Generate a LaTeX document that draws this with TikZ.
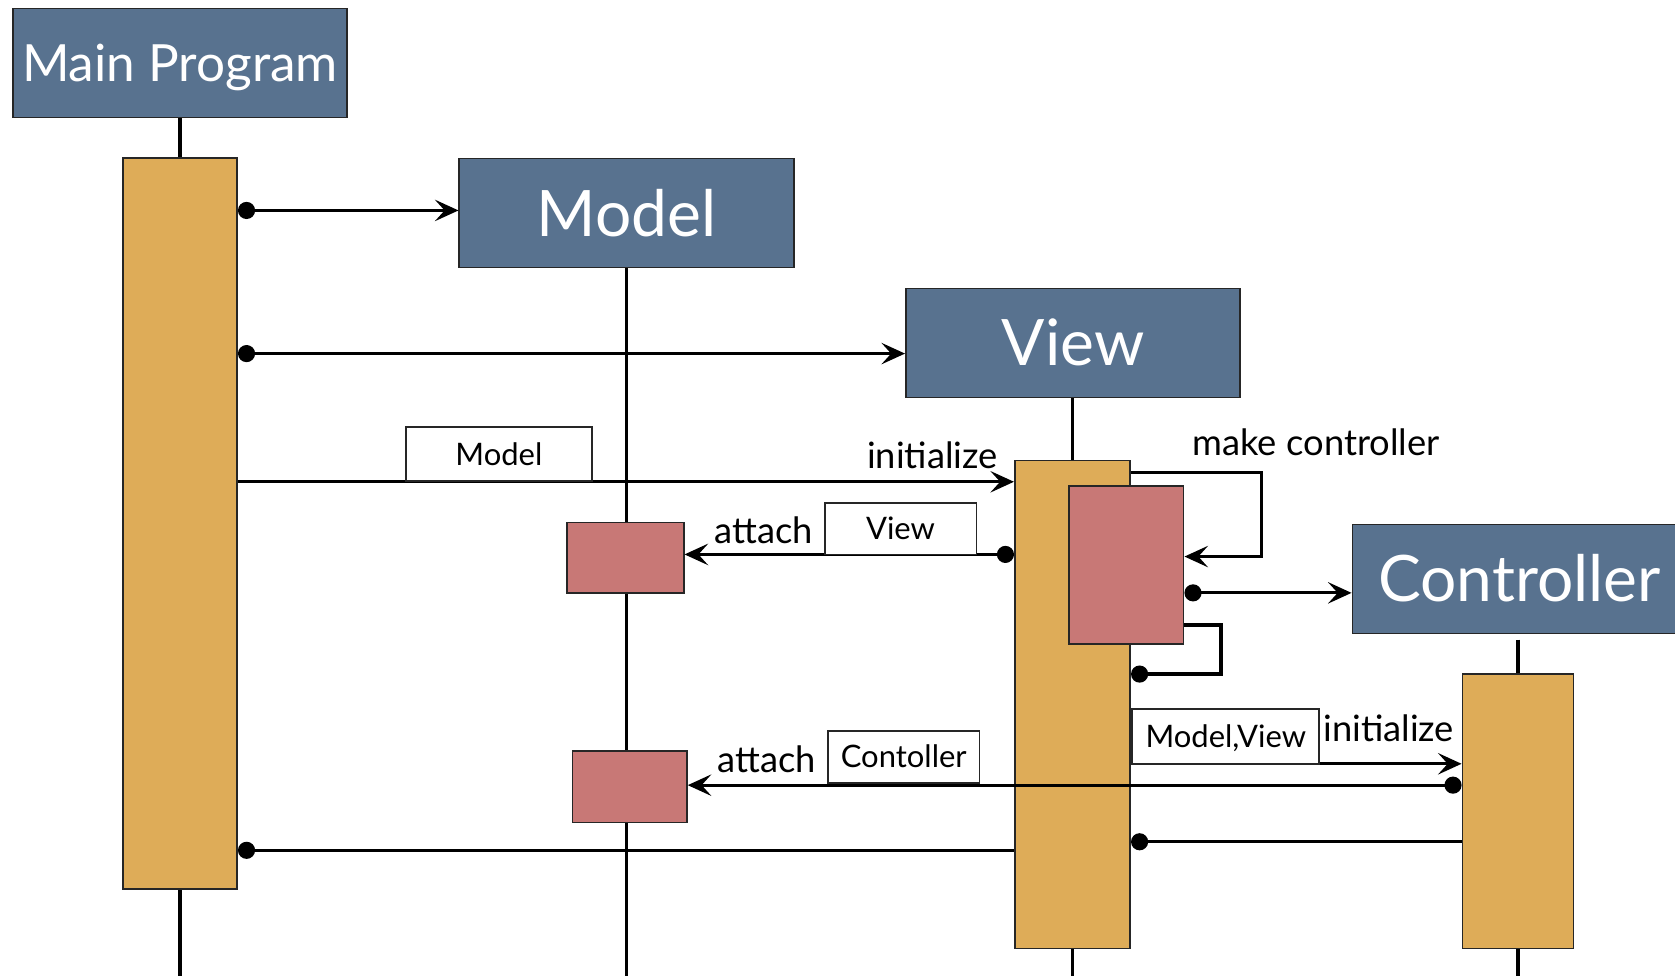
\documentclass[tikz,border=0pt]{standalone}
\usepackage{fontspec}
\setmainfont{Lato}
\usetikzlibrary{arrows.meta}
\definecolor{slate}{RGB}{88,114,143}
\definecolor{ochre}{RGB}{222,172,88}
\definecolor{rose}{RGB}{200,120,118}
\pgfdeclarelayer{bg}
\pgfsetlayers{bg,main}
\tikzset{
  actor/.style={draw=black!85, line width=0.8pt, fill=slate, text=white, inner sep=0,
    minimum width=156.5pt, minimum height=51pt, text height=21.5pt, text depth=0pt,
    font=\fontsize{30}{36}\selectfont},
  bar/.style={draw=black!85, line width=0.8pt, fill=ochre, inner sep=0},
  pinkbox/.style={draw=black!85, line width=0.8pt, fill=rose, inner sep=0},
  tag/.style={draw=black!85, fill=white, line width=0.8pt, inner sep=0,
    text height=10.4pt, text depth=0pt, font=\fontsize{14.5}{17}\selectfont},
  lbl/.style={inner sep=0, text height=12pt, text depth=0pt, font=\fontsize{17}{20}\selectfont},
  lifeline/.style={line width=1.5pt},
  link/.style={line width=1.5pt},
  sendarrow/.style={link, -{Stealth[length=11pt,width=10pt,inset=4.5pt]}},
  dotsend/.style={link, {Circle[length=8pt]}-{Stealth[length=11pt,width=10pt,inset=4.5pt]}},
  dotline/.style={link, {Circle[length=8pt]}-},
  linedot/.style={link, -{Circle[length=8pt]}}
}
\begin{document}
\begin{tikzpicture}[x=0.5pt,y=-0.5pt]
\useasboundingbox (0,0) rectangle (1568,914);
\clip (0,0) rectangle (1568,914);
\coordinate (bottom) at (0,914);

% participants
\node[actor, font=\fontsize{24}{28}\selectfont, text height=17.3pt] (main) at (168.5,59) {Main Program};
\node[actor] (model) at (586.5,199.5) {Model};
\node[actor] (view) at (1004.5,321) {View};
\node[actor] (ctrl) at (1422.5,542) {Controller};

% activation bars
\node[bar, minimum width=53.5pt, minimum height=342pt] (mainbar) at (168.5,490) {};
\node[bar, minimum width=54pt, minimum height=228.5pt] (viewbar) at (1004,659.5) {};
\node[bar, minimum width=52pt, minimum height=128.5pt] (ctrlbar) at (1421,759.5) {};
\node[pinkbox, minimum width=53.5pt, minimum height=74pt] (vact) at (1054.5,529) {};
\node[pinkbox, minimum width=54.5pt, minimum height=33pt] (mact1) at (585.5,522) {};
\node[pinkbox, minimum width=53.5pt, minimum height=33.5pt] (mact2) at (589.5,736.5) {};

% lifelines, behind everything else
\begin{pgfonlayer}{bg}
\fill[white] (0,0) rectangle (1568,914);
\draw[lifeline] (mainbar.north |- main.south) -- (mainbar.north);
\draw[lifeline] (mainbar.south) -- (mainbar.south |- bottom);
\draw[lifeline] (model.south) -- (model.south |- bottom);
\draw[lifeline] (viewbar.north |- view.south) -- (viewbar.north);
\draw[lifeline] (viewbar.south) -- (viewbar.south |- bottom);
\draw[lifeline, shorten <=2.5pt] (ctrlbar.north |- ctrl.south) -- (ctrlbar.north);
\draw[lifeline] (ctrlbar.south) -- (ctrlbar.south |- bottom);
\end{pgfonlayer}

% messages
\draw[dotsend] (mainbar.east |- 0,197) -- (model.west |- 0,197);
\draw[dotsend] (mainbar.east |- 0,331) -- (view.west |- 0,331);
\draw[sendarrow] (mainbar.east |- 0,451) -- (viewbar.west |- 0,451);
\draw[dotsend] (viewbar.west |- 0,519) -- (mact1.east |- 0,519);
\draw[sendarrow] (viewbar.east |- 0,442) -| (1181,521) -- (vact.east |- 0,521);
\draw[dotsend] (vact.east |- 0,555) -- (ctrl.west |- 0,555);
\draw[linedot] (vact.east |- 0,585) -| (1143,631) -- (viewbar.east |- 0,631);
\draw[sendarrow] (viewbar.east |- 0,715) -- (ctrlbar.west |- 0,715);
\draw[dotsend] (ctrlbar.west |- 0,735) -- (mact2.east |- 0,735);
\draw[dotline] (viewbar.east |- 0,788) -- (ctrlbar.west |- 0,788);
\draw[dotline] (mainbar.east |- 0,796) -- (viewbar.west |- 0,796);

% parameter tags
\node[tag, minimum width=87pt, minimum height=25pt] (tmodel) at (467,425) {Model};
\node[tag, minimum width=71pt, minimum height=24pt] (tview) at (843,495) {View};
\node[tag, minimum width=71pt, minimum height=24.5pt] (tctrl) at (846,708.5) {Contoller};
\node[tag, minimum width=87.5pt, minimum height=25.5pt] (tmv) at (1147.5,689.5) {Model,View};

% message names
\node[lbl] (init1) at (873,427) {initialize};
\node[lbl] (att1) at (715,497) {attach};
\node[lbl] (mkctrl) at (1232,414) {make controller};
\node[lbl] (init2) at (1300,682) {initialize};
\node[lbl] (att2) at (718,711) {attach};
\end{tikzpicture}
\end{document}
